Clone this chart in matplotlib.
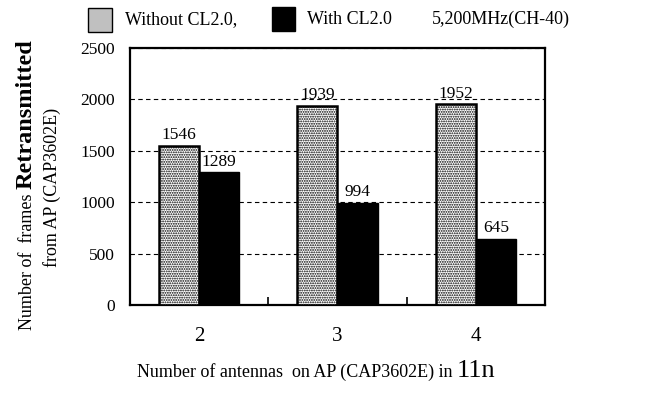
import numpy as np
import matplotlib
matplotlib.use('Agg')
import matplotlib.pyplot as plt
from matplotlib.patches import Rectangle

plt.rcParams['font.family'] = 'Liberation Serif'
plt.rcParams['hatch.linewidth'] = 0.9

# data
antennas = [2, 3, 4]
without_cl = [1546, 1939, 1952]
with_cl = [1289, 994, 645]
yticks = [0, 500, 1000, 1500, 2000, 2500]

W, H = 668, 398
fig = plt.figure(figsize=(W / 100, H / 100), dpi=100)
ax = fig.add_axes([130 / W, 1 - 305 / H, 415 / W, 257 / H])

x = np.array(antennas, dtype=float)
bw = 0.29
b1 = ax.bar(x - bw / 2, without_cl, bw, facecolor='white', edgecolor='black',
            hatch='.......', linewidth=1.8, zorder=3)
b2 = ax.bar(x + bw / 2, with_cl, bw, facecolor='black', edgecolor='black',
            linewidth=1.0, zorder=3)
ax.bar_label(b1, padding=2, fontsize=12.5)
ax.bar_label(b2, padding=2, fontsize=12.5)

ax.set_xlim(1.5, 4.5)
ax.set_ylim(0, 2500)
ax.set_yticks(yticks)
ax.set_xticks(antennas)
ax.set_xticks([2.5, 3.5], minor=True)
ax.tick_params(axis='y', length=0, pad=11, labelsize=12.5)
ax.tick_params(axis='x', which='major', length=0, pad=16, labelsize=15)
ax.tick_params(axis='x', which='minor', direction='in', length=6, width=1.2)
ax.yaxis.grid(True, color='black', linestyle=(0, (4, 3)), linewidth=0.8)
ax.set_axisbelow(True)
for s in ax.spines.values():
    s.set_linewidth(1.6)

# legend drawn by hand
fig.patches.append(Rectangle((88 / W, 1 - 32 / H), 24 / W, 24 / H, transform=fig.transFigure,
                             facecolor='#c0c0c0', edgecolor='black', linewidth=1.0))
fig.patches.append(Rectangle((272 / W, 1 - 31 / H), 23 / W, 24 / H, transform=fig.transFigure,
                             facecolor='black', edgecolor='black', linewidth=1.0))
fig.text(125 / W, 1 - 24 / H, 'Without CL2.0,', fontsize=13, va='baseline')
fig.text(307 / W, 1 - 24 / H, 'With CL2.0', fontsize=13, va='baseline')
fig.text(432 / W, 1 - 24 / H, '5,200MHz(CH-40)', fontsize=13, va='baseline')

# x label with a bigger "11n"
t1 = fig.text(137 / W, 1 - 377 / H, 'Number of antennas  on AP (CAP3602E) in ',
              fontsize=13, va='baseline')
fig.canvas.draw()
r = fig.canvas.get_renderer()
e = t1.get_window_extent(r)
fig.text(e.x1 / W, 1 - 377 / H, '11n', fontsize=19, va='baseline')

# y label, two lines, one word bold
t2 = fig.text(32 / W, 1 - 330 / H, 'Number of  frames ', fontsize=13, rotation=90,
              rotation_mode='anchor', ha='left', va='baseline')
e = t2.get_window_extent(r)
fig.text(32 / W, e.y1 / H, 'Retransmitted', fontsize=17.5, fontweight='bold', rotation=90,
         rotation_mode='anchor', ha='left', va='baseline')
fig.text(57 / W, 1 - 267 / H, 'from AP (CAP3602E)', fontsize=13, rotation=90,
         rotation_mode='anchor', ha='left', va='baseline')

fig.savefig('out.png', dpi=100)
